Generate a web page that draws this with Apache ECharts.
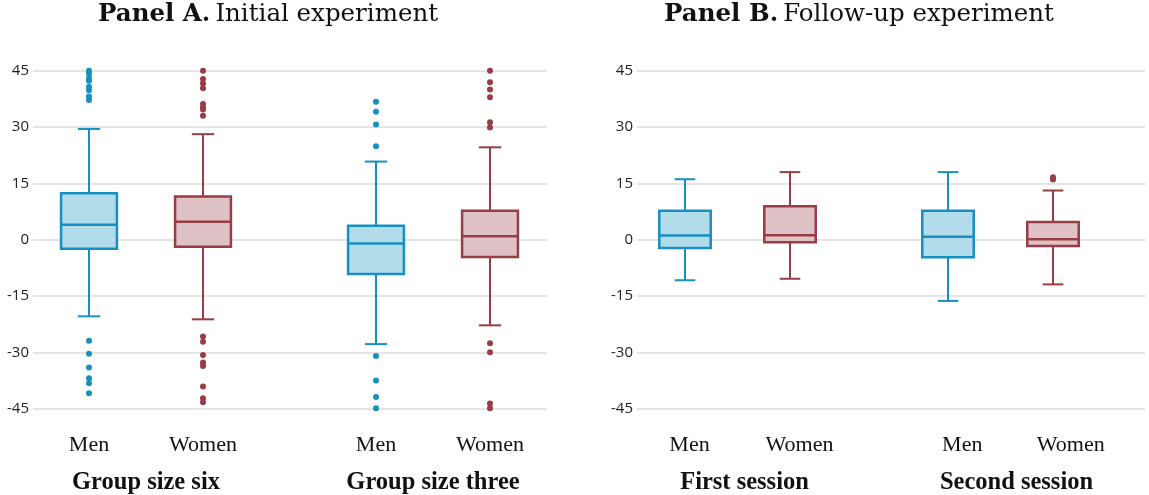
<!DOCTYPE html>
<html>
<head>
<meta charset="utf-8">
<script src="https://cdn.jsdelivr.net/npm/echarts@6/dist/echarts.min.js"></script>
<style>html,body{margin:0;padding:0;background:#fff}#c{width:1149px;height:495px}</style>
</head>
<body>
<div id="c"></div>
<script>
// ---- data ----
const categories = ['Men', 'Women'];
const groupNamesA = ['Group size six', 'Group size three'];
const groupNamesB = ['First session', 'Second session'];
const titleA = ['Panel A.', 'Initial experiment'];
const titleB = ['Panel B.', 'Follow-up experiment'];
const yMin = -45, yMax = 45, yStep = 15;

// box stats: [lower whisker, Q1, median, Q3, upper whisker]
const sixMen = [-20.4, -2.4, 4.0, 12.4, 29.5];
const sixWomen = [-21.2, -1.9, 4.8, 11.5, 28.1];
const threeMen = [-27.8, -9.1, -1.0, 3.7, 20.8];
const threeWomen = [-22.8, -4.6, 0.9, 7.7, 24.6];
const firstMen = [-10.8, -2.2, 1.1, 7.7, 16.1];
const firstWomen = [-10.4, -0.7, 1.2, 8.9, 18.0];
const secondMen = [-16.3, -4.7, 0.8, 7.7, 18.0];
const secondWomen = [-11.9, -1.7, 0.1, 4.7, 13.1];

// outliers
const sixMenOut = [45.0, 44.2, 43.0, 42.3, 40.7, 39.8, 38.1, 37.2, -26.9, -30.4, -34.0, -36.9, -38.2, -40.9];
const sixWomenOut = [45.0, 42.8, 41.6, 40.3, 36.1, 35.2, 34.7, 33.0, -25.8, -27.2, -30.7, -32.7, -33.6, -39.1, -42.2, -43.3];
const threeMenOut = [36.7, 34.1, 30.7, 24.9, -31.0, -37.5, -41.9, -44.9];
const threeWomenOut = [45.0, 41.9, 40.0, 37.9, 31.3, 29.9, -27.6, -30.0, -43.6, -44.9];
const firstMenOut = [];
const firstWomenOut = [];
const secondMenOut = [];
const secondWomenOut = [16.0, 16.6];

// ---- styling ----
const BLUE = '#1790c1', BLUE_FILL = '#b3dcea';
const RED = '#983c45', RED_FILL = '#dfc2c5';
const TOP = 70.7, HEIGHT = 338;
const SERIF = '"Liberation Serif", "Times New Roman", serif';
const TITLE_SERIF = '"DejaVu Serif", serif';
const SANS = '"Open Sans", "Liberation Sans", sans-serif';
const BOX_RATIO = 0.49, CAP_RATIO = 0.4;

function boxRender(params, api) {
  const stroke = api.value(6) === 0 ? BLUE : RED;
  const fill = api.value(6) === 0 ? BLUE_FILL : RED_FILL;
  const c = api.value(0);
  const lo = api.coord([c, api.value(1)]);
  const q1 = api.coord([c, api.value(2)]);
  const md = api.coord([c, api.value(3)]);
  const q3 = api.coord([c, api.value(4)]);
  const hi = api.coord([c, api.value(5)]);
  const band = api.size([1, 0])[0];
  const bw = band * BOX_RATIO, hw = bw / 2, cw = bw * CAP_RATIO / 2;
  const x = lo[0];
  const ls = {stroke: stroke, lineWidth: 2};
  return {
    type: 'group',
    children: [
      {type: 'line', shape: {x1: x, y1: q3[1], x2: x, y2: hi[1]}, style: ls},
      {type: 'line', shape: {x1: x, y1: q1[1], x2: x, y2: lo[1]}, style: ls},
      {type: 'line', shape: {x1: x - cw, y1: hi[1], x2: x + cw, y2: hi[1]}, style: ls},
      {type: 'line', shape: {x1: x - cw, y1: lo[1], x2: x + cw, y2: lo[1]}, style: ls},
      {type: 'rect', shape: {x: x - hw, y: q3[1], width: bw, height: q1[1] - q3[1]},
        style: {fill: fill, stroke: stroke, lineWidth: 2.5}},
      {type: 'line', shape: {x1: x - hw, y1: md[1], x2: x + hw, y2: md[1]}, style: {stroke: stroke, lineWidth: 2.5}}
    ]
  };
}

const groups = [
  {men: sixMen, women: sixWomen, menOut: sixMenOut, womenOut: sixWomenOut, name: groupNamesA[0],
   box: {left: 32, width: 228}, lbl: {left: 32, width: 228}},
  {men: threeMen, women: threeWomen, menOut: threeMenOut, womenOut: threeWomenOut, name: groupNamesA[1],
   box: {left: 319, width: 228}, lbl: {left: 319, width: 228}},
  {men: firstMen, women: firstWomen, menOut: firstMenOut, womenOut: firstWomenOut, name: groupNamesB[0],
   box: {left: 632.5, width: 210}, lbl: {left: 634.5, width: 220}},
  {men: secondMen, women: secondWomen, menOut: secondMenOut, womenOut: secondWomenOut, name: groupNamesB[1],
   box: {left: 895.5, width: 210}, lbl: {left: 908, width: 217}}
];

function mkGrid(left, width) {
  return {left: left, width: width, top: TOP, height: HEIGHT, outerBoundsMode: 'none', containLabel: false};
}

const grid = [mkGrid(33, 514), mkGrid(637, 508)];
const xAxis = [
  {gridIndex: 0, type: 'category', data: [''], show: false},
  {gridIndex: 1, type: 'category', data: [''], show: false}
];
const yAxisBg = {
  type: 'value', min: yMin, max: yMax, interval: yStep,
  axisLine: {show: false}, axisTick: {show: false},
  axisLabel: {margin: 4, fontFamily: SANS, fontSize: 15, color: '#222'},
  splitLine: {lineStyle: {color: '#dcdcdc', width: 1.5}}
};
const yAxis = [
  Object.assign({gridIndex: 0}, yAxisBg),
  Object.assign({gridIndex: 1}, yAxisBg)
];
const series = [];

groups.forEach(function (g) {
  // box grid
  const bi = grid.length;
  grid.push(mkGrid(g.box.left, g.box.width));
  xAxis.push({gridIndex: bi, type: 'category', data: categories, show: false});
  yAxis.push({gridIndex: bi, type: 'value', min: yMin, max: yMax, show: false, splitLine: {show: false}});
  series.push({
    type: 'custom', xAxisIndex: bi, yAxisIndex: bi, renderItem: boxRender,
    data: [[0].concat(g.men, [0]), [1].concat(g.women, [1])]
  });
  series.push({
    type: 'scatter', xAxisIndex: bi, yAxisIndex: bi, symbolSize: 6,
    itemStyle: {color: BLUE, opacity: 1}, data: g.menOut.map(function (v) { return [0, v]; })
  });
  series.push({
    type: 'scatter', xAxisIndex: bi, yAxisIndex: bi, symbolSize: 6,
    itemStyle: {color: RED, opacity: 1}, data: g.womenOut.map(function (v) { return [1, v]; })
  });
});
groups.forEach(function (g) {
  // label grid
  const li = grid.length;
  grid.push(mkGrid(g.lbl.left, g.lbl.width));
  xAxis.push({
    gridIndex: li, type: 'category', data: categories,
    axisLine: {show: false}, axisTick: {show: false},
    axisLabel: {margin: 26, fontFamily: SERIF, fontSize: 22, color: '#111'},
    name: g.name, nameLocation: 'middle', nameGap: 61,
    nameTextStyle: {fontFamily: SERIF, fontSize: 24.5, fontWeight: 'bold', color: '#111'}
  });
  yAxis.push({gridIndex: li, type: 'value', min: yMin, max: yMax, show: false, splitLine: {show: false}});
});

function titleOf(parts, cx) {
  return {
    left: cx, top: 2, padding: 0, textAlign: 'center',
    text: '{b|' + parts[0] + '} {r|' + parts[1] + '}',
    textStyle: {
      fontWeight: 'normal',
      rich: {
        b: {fontFamily: TITLE_SERIF, fontSize: 24.5, fontWeight: 'bold', color: '#111'},
        r: {fontFamily: TITLE_SERIF, fontSize: 24.5, fontWeight: 'normal', color: '#111'}
      }
    }
  };
}

const chart = echarts.init(document.getElementById('c'), null, {renderer: 'canvas'});
chart.setOption({
  animation: false,
  title: [titleOf(titleA, 268), titleOf(titleB, 859)],
  grid: grid, xAxis: xAxis, yAxis: yAxis, series: series
});
</script>
</body>
</html>
